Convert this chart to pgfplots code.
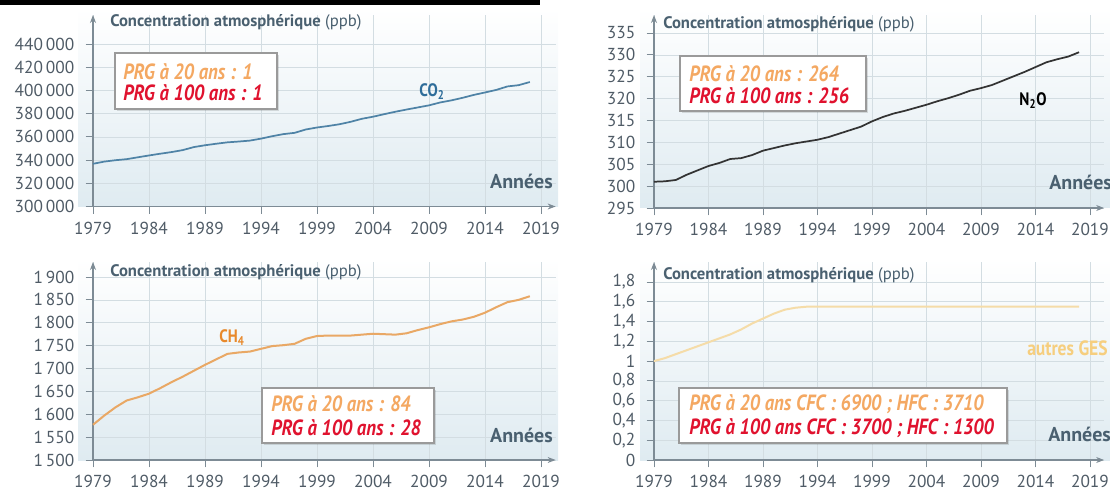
\documentclass[border=0pt]{standalone}
\usepackage{pgfplots}
\pgfplotsset{compat=1.18}
\usepackage{pgfplotstable}
\usepackage{fontspec}
\setmainfont{PT Sans}
\newfontfamily\boxfont{PT Sans}[FakeStretch=0.85]
\usetikzlibrary{arrows.meta}

\definecolor{axgray}{HTML}{7D8B95}
\definecolor{ticktxt}{HTML}{4F5B66}
\definecolor{titletxt}{HTML}{4A6070}
\definecolor{panelbot}{HTML}{DFEBF1}
\definecolor{gridc}{HTML}{D3DDE2}
\definecolor{co2}{HTML}{4F83A6}
\definecolor{co2lbl}{HTML}{2E6D9A}
\definecolor{n2o}{HTML}{333333}
\definecolor{ch4}{HTML}{E9A865}
\definecolor{ch4lbl}{HTML}{E8892B}
\definecolor{other}{HTML}{F5DCA8}
\definecolor{otherlbl}{HTML}{F6CE7E}
\definecolor{prgA}{HTML}{F4A862}
\definecolor{prgB}{HTML}{E0122E}
\definecolor{boxline}{HTML}{9A9A9A}

\pgfplotstableread{
year val
1979 336800
1980 338700
1981 339900
1982 340800
1983 342400
1984 344000
1985 345500
1986 346900
1987 348600
1988 351200
1989 352800
1990 354100
1991 355300
1992 356000
1993 356800
1994 358500
1995 360600
1996 362400
1997 363500
1998 366400
1999 368100
2000 369400
2001 370900
2002 373000
2003 375600
2004 377400
2005 379600
2006 381700
2007 383600
2008 385400
2009 387200
2010 389700
2011 391500
2012 393700
2013 396200
2014 398300
2015 400500
2016 403500
2017 404600
2018 407300
}\coTwo

\pgfplotstableread{
year val
1979 301.0
1980 301.1
1981 301.4
1982 302.6
1983 303.6
1984 304.6
1985 305.3
1986 306.2
1987 306.4
1988 307.1
1989 308.1
1990 308.7
1991 309.3
1992 309.8
1993 310.2
1994 310.6
1995 311.2
1996 312.0
1997 312.8
1998 313.6
1999 314.8
2000 315.8
2001 316.6
2002 317.2
2003 317.9
2004 318.6
2005 319.4
2006 320.1
2007 320.9
2008 321.8
2009 322.4
2010 323.1
2011 324.1
2012 325.1
2013 326.1
2014 327.2
2015 328.3
2016 329.0
2017 329.6
2018 330.6
}\nTwoO

\pgfplotstableread{
year val
1979 1577
1980 1597
1981 1615
1982 1630
1983 1637
1984 1645
1985 1657
1986 1670
1987 1682
1988 1695
1989 1708
1990 1720
1991 1732
1992 1735
1993 1737
1994 1743
1995 1749
1996 1751
1997 1754
1998 1765
1999 1771
2000 1772
2001 1772
2002 1772
2003 1774
2004 1776
2005 1775
2006 1774
2007 1777
2008 1784
2009 1790
2010 1797
2011 1803
2012 1807
2013 1813
2014 1822
2015 1834
2016 1845
2017 1850
2018 1858
}\chFour

\pgfplotstableread{
year val
1979 1.00
1980 1.03
1981 1.07
1982 1.11
1983 1.15
1984 1.19
1985 1.23
1986 1.27
1987 1.32
1988 1.38
1989 1.43
1990 1.48
1991 1.52
1992 1.54
1993 1.55
1994 1.55
1998 1.55
2003 1.55
2008 1.55
2013 1.55
2018 1.55
}\otherGES

\pgfplotsset{
  panel/.style={
    scale only axis, anchor=south west,
    axis x line=bottom, axis y line=left,
    axis line style={axgray, line width=0.8pt, -{Stealth[length=6pt,width=4.5pt]}},
    xmin=1979, xmax=2020.3,
    xtick={1979,1984,1989,1994,1999,2004,2009,2014,2019},
    xticklabels={1979,1984,1989,1994,1999,2004,2009,2014,2019},
    scaled y ticks=false, scaled x ticks=false,
    tick align=outside, major tick length=5.5pt,
    tick style={axgray, line width=0.6pt},
    grid=major, grid style={gridc, line width=0.5pt},
    tick label style={font=\fontsize{13}{14}\selectfont, text=ticktxt},
    yticklabel style={xshift=-5pt},
    xticklabel style={yshift=-2.5pt},
    clip=false,
  }
}

\begin{document}
\begin{tikzpicture}
\useasboundingbox (0,0) rectangle (832.5pt,-371.25pt);
\begin{scope}[x=0.75pt,y=-0.75pt]
\fill[black] (0,0) rectangle (540,5);
\shade[top color=white, bottom color=panelbot] (78,8) rectangle (558,206.5);
\shade[top color=white, bottom color=panelbot] (640,8) rectangle (1110,208);
\shade[top color=white, bottom color=panelbot] (78,258) rectangle (558,460);
\shade[top color=white, bottom color=panelbot] (640,258) rectangle (1110,460);
\end{scope}

% Top left: CO2
\begin{axis}[panel, at={(69.75pt,-154.875pt)}, width=346.95pt, height=143.625pt,
  ymin=300000, ymax=465086,
  ytick={300000,320000,340000,360000,380000,400000,420000,440000},
  yticklabels={300\,000,320\,000,340\,000,360\,000,380\,000,400\,000,420\,000,440\,000}]
\addplot[co2, line width=1.3pt] table[x=year,y=val] {\coTwo};
\end{axis}

% Top right: N2O
\begin{axis}[panel, at={(490.5pt,-156pt)}, width=337.6pt, height=144.75pt,
  ymin=295, ymax=339.11,
  ytick={295,300,305,310,315,320,325,330,335},
  yticklabels={295,300,305,310,315,320,325,330,335}]
\addplot[n2o, line width=1.3pt] table[x=year,y=val] {\nTwoO};
\end{axis}

% Bottom left: CH4
\begin{axis}[panel, at={(69.75pt,-345pt)}, width=346.95pt, height=148.5pt,
  ymin=1500, ymax=1932.8,
  ytick={1500,1550,1600,1650,1700,1750,1800,1850,1900},
  yticklabels={1\,500,1\,550,1\,600,1\,650,1\,700,1\,750,1\,800,1\,850,1\,900}]
\addplot[ch4, line width=1.5pt] table[x=year,y=val] {\chFour};
\end{axis}

% Bottom right: other GHG
\begin{axis}[panel, at={(490.5pt,-345pt)}, width=337.6pt, height=148.5pt,
  ymin=0, ymax=2.002,
  ytick={0,0.2,0.4,0.6,0.8,1,1.2,1.4,1.6,1.8},
  yticklabels={0,{0,2},{0,4},{0,6},{0,8},1,{1,2},{1,4},{1,6},{1,8}}]
\addplot[other, line width=1.5pt] table[x=year,y=val] {\otherGES};
\end{axis}

\begin{scope}[x=0.75pt,y=-0.75pt]
% titles
\foreach \xx/\yy in {110/22, 663/24, 110/272, 663/275}{
  \node[anchor=west, inner sep=0, text=titletxt, font=\fontsize{12.5}{14}\selectfont] at (\xx,\yy) {\textbf{Concentration atmosphérique} (ppb)};
}
% Annees
\node[anchor=east, inner sep=0, text=titletxt, font=\fontsize{15}{17}\selectfont\bfseries] at (553,181) {Années};
\node[anchor=west, inner sep=0, text=titletxt, font=\fontsize{15}{17}\selectfont\bfseries] at (1049,182) {Années};
\node[anchor=east, inner sep=0, text=titletxt, font=\fontsize{15}{17}\selectfont\bfseries] at (553,435) {Années};
\node[anchor=west, inner sep=0, text=titletxt, font=\fontsize{15}{17}\selectfont\bfseries] at (1048,434) {Années};
% series labels
\node[text=co2lbl, font=\boxfont\fontsize{13.5}{15}\selectfont\bfseries] at (432,92) {CO\textsubscript{2}};
\node[text=black, font=\boxfont\fontsize{13.5}{15}\selectfont\bfseries] at (1033,101) {N\textsubscript{2}O};
\node[text=ch4lbl, font=\boxfont\fontsize{13.5}{15}\selectfont\bfseries] at (232,338) {CH\textsubscript{4}};
\node[anchor=west, inner sep=0, text=otherlbl, font=\boxfont\fontsize{15.5}{17}\selectfont\bfseries] at (1027,348) {autres GES};
% boxes
\foreach \xa/\ya/\xb/\yb in {115/53/277/109, 680/56/866/111, 262/388/434/443, 679/388/1007/443}{
  \fill[black, opacity=0.12] (\xa+2,\ya+2) rectangle (\xb+2,\yb+2);
  \draw[boxline, line width=0.9pt, fill=white] (\xa,\ya) rectangle (\xb,\yb);
}
\tikzset{prg/.style={anchor=west, inner sep=0, font=\boxfont\fontsize{16.5}{18}\selectfont\bfseries\itshape}}
\node[prg, text=prgA] at (123,72) {PRG à 20 ans : 1};
\node[prg, text=prgB] at (123,93) {PRG à 100 ans : 1};
\node[prg, text=prgA] at (689,74) {PRG à 20 ans : 264};
\node[prg, text=prgB] at (689,96) {PRG à 100 ans : 256};
\node[prg, text=prgA] at (271,404) {PRG à 20 ans : 84};
\node[prg, text=prgB] at (271,428) {PRG à 100 ans : 28};
\node[prg, text=prgA] at (689,404) {PRG à 20 ans CFC : 6900 ; HFC : 3710};
\node[prg, text=prgB] at (689,428) {PRG à 100 ans CFC : 3700 ; HFC : 1300};
\end{scope}
\end{tikzpicture}
\end{document}
